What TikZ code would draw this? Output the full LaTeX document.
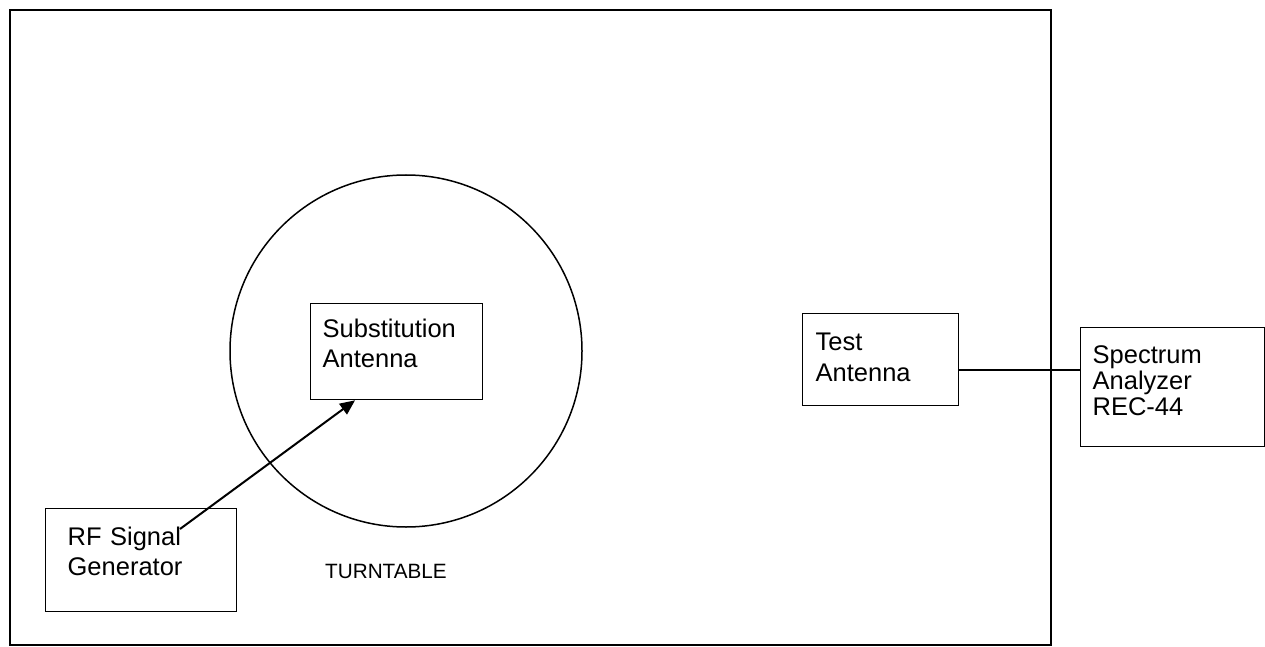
\documentclass[tikz,border=0pt]{standalone}
\usepackage{fontspec}
\setmainfont{Liberation Sans}
\usetikzlibrary{arrows.meta,calc}

\begin{document}
\begin{tikzpicture}[x=1pt,y=-1pt,
  box/.style={draw,line width=1.3pt,rectangle,anchor=north west,align=left,
    inner ysep=0pt,font=\fontsize{25.5}{30}\selectfont},
  feed/.style={line width=2pt,-{Triangle[length=15pt,width=13pt]}}]
 \useasboundingbox (0,0) rectangle (1265,647);
 % chamber
 \draw[line width=2.5pt] (10,10) rectangle (1051,645);
 \node[draw,circle,line width=1.5pt,minimum size=352pt,inner sep=0pt] (turntable) at (406,351) {};
 \node[anchor=base,font=\fontsize{20.7}{24}\selectfont] (tlabel) at (386,578) {TURNTABLE};
 % boxes
 \node[box,text width=148pt,inner xsep=12pt,minimum height=96pt,text depth=46pt] (subst) at (310,303) {Substitution\\Antenna};
 \node[box,text width=130pt,inner xsep=13pt,minimum height=92pt,text depth=36pt,
   font=\fontsize{25.5}{31}\selectfont] (test) at (802,313) {Test\\Antenna};
 \node[box,text width=160pt,inner xsep=12pt,minimum height=119pt,text depth=65pt,
   font=\fontsize{25.5}{26}\selectfont] (spec) at (1080,327) {Spectrum\\Analyzer\\REC-44};
 \node[box,text width=147pt,inner xsep=22pt,minimum height=103pt,text depth=47pt] (gen) at (45,508) {RF Signal\\Generator};
 % connections
 \coordinate (sig) at (180,529);
 \coordinate (rx) at ($(test.north east)!0.61!(test.south east)$);
 \draw[feed] (sig) -- ($(subst.south west)!0.26!(subst.south east)$);
 \draw[line width=1.3pt] (rx) -- (rx -| spec.west);
\end{tikzpicture}
\end{document}
